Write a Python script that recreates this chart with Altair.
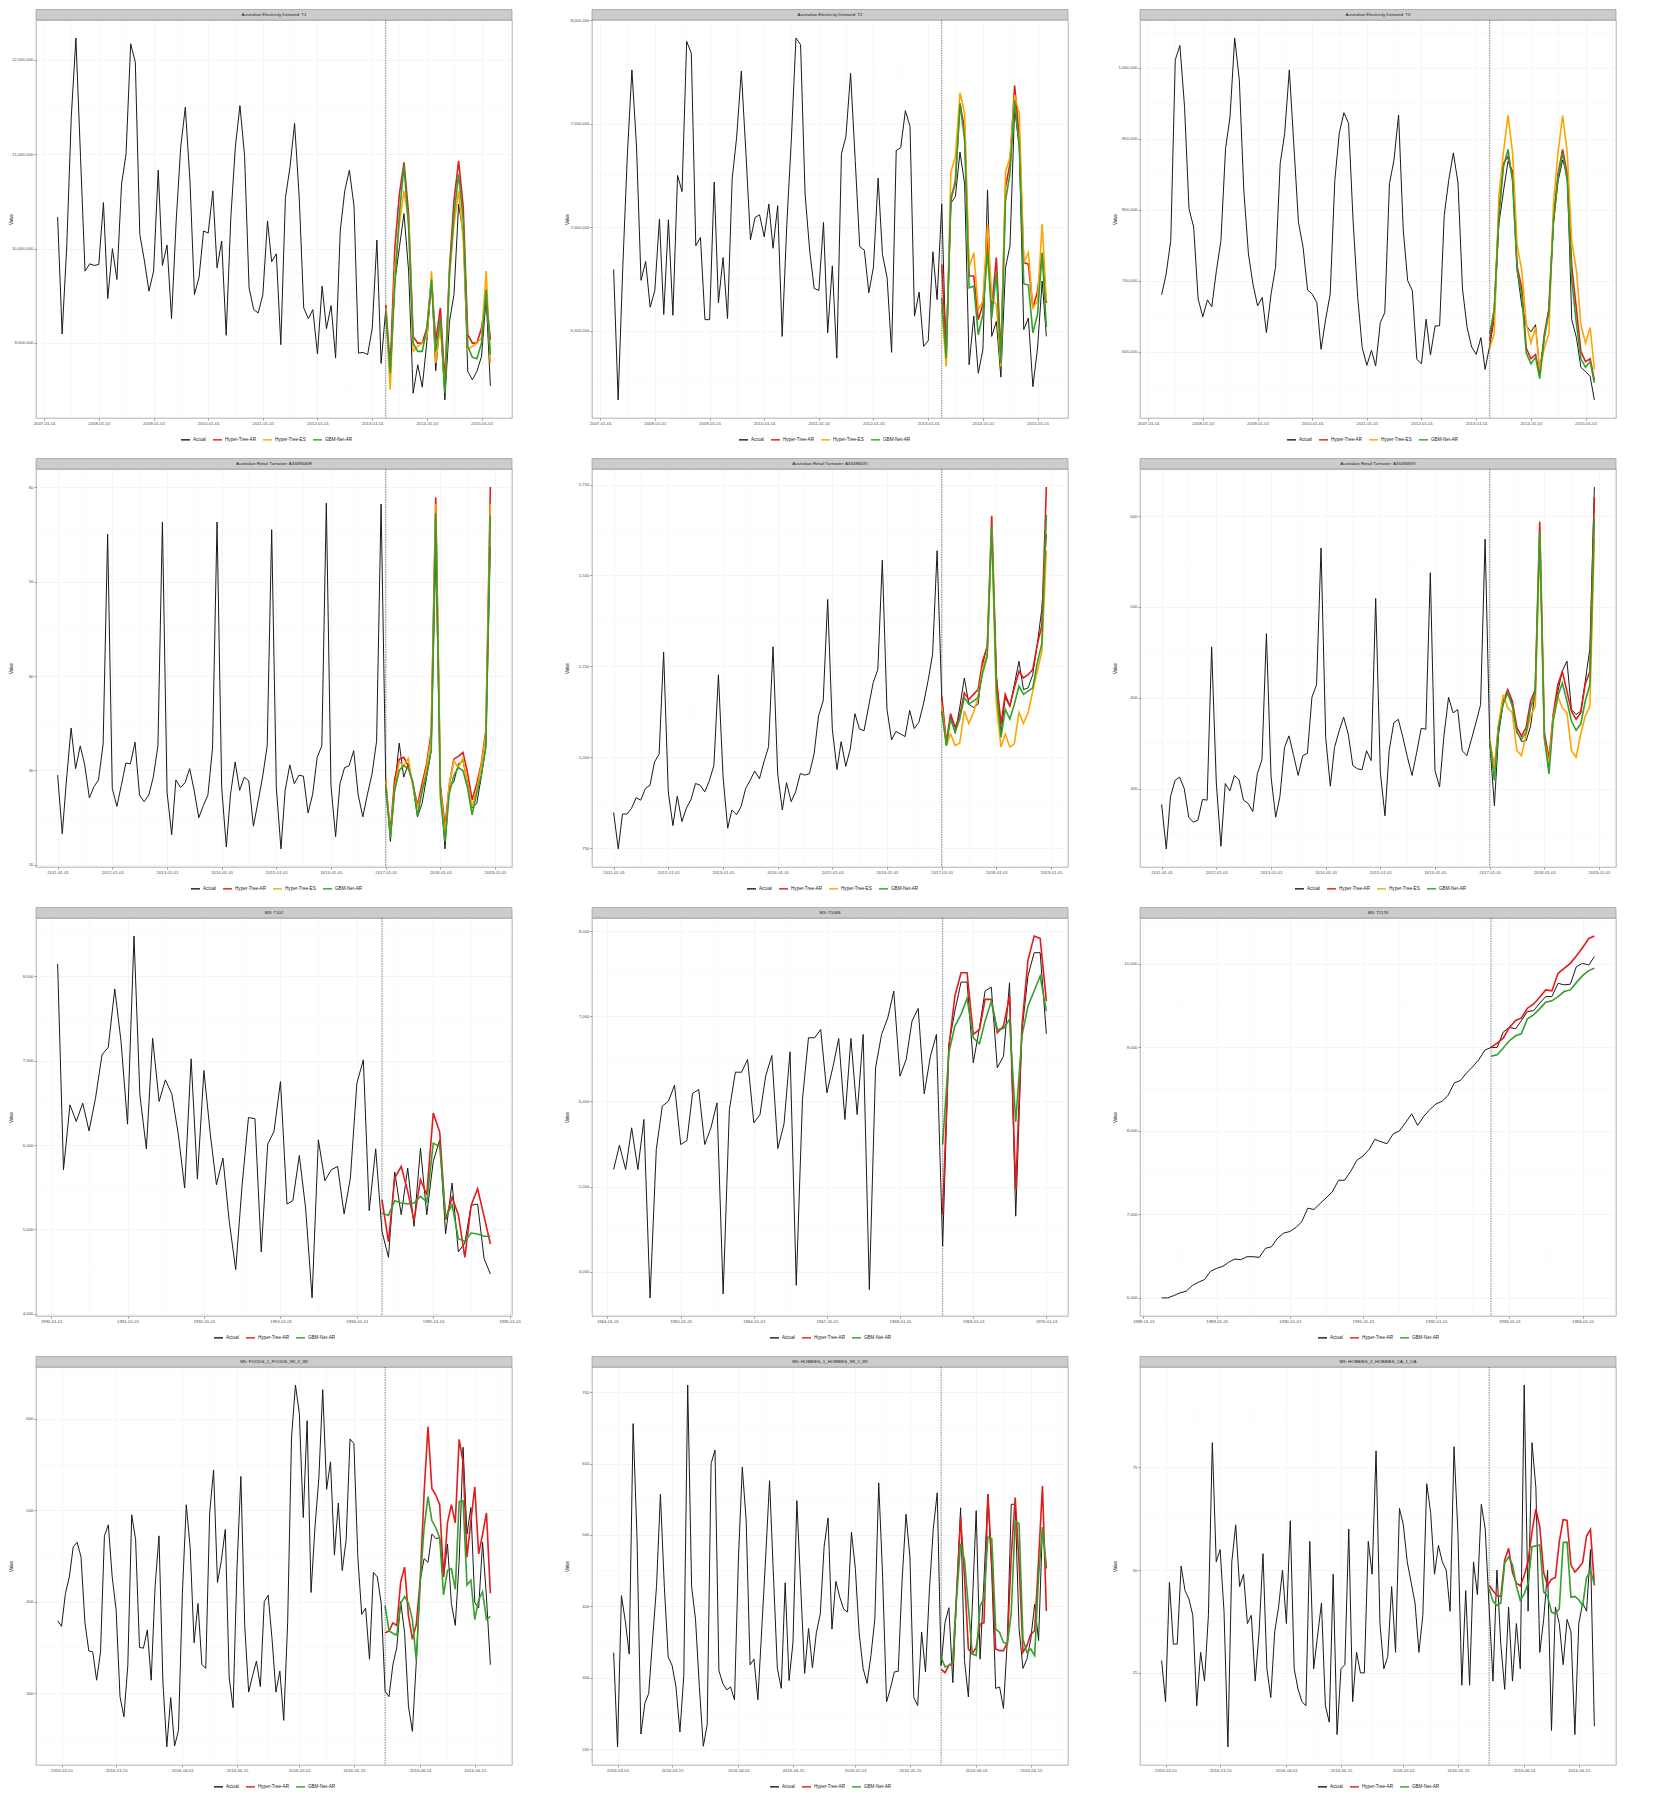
import altair as alt
import pandas as pd

FONT = "Liberation Sans"
W, H = 476, 398
COLORS = {"Actual": "#1A1A1A", "Hyper-Tree-AR": "#E41A1C",
          "Hyper-Tree-ES": "#FFA500", "GBM-Net-AR": "#33A02C"}

# ---------------- Australian Electricity Demand (monthly) ----------------
elec_xticks = ["2007-01-01", "2008-01-01", "2009-01-01", "2010-01-01", "2011-01-01",
               "2012-01-01", "2013-01-01", "2014-01-01", "2015-01-01"]

t1_title = "Australian Electricity Demand: T1"
t1_start, t1_test = "2007-04-01", "2013-04-01"
t1_actual = [10.335e6, 9.095e6, 10.027e6, 11.391e6, 12.230e6, 10.966e6, 9.761e6, 9.839e6, 9.821e6, 9.832e6, 10.487e6, 9.471e6,
             9.999e6, 9.673e6, 10.682e6, 11.001e6, 12.170e6, 11.975e6, 10.151e6, 9.868e6, 9.549e6, 9.761e6, 10.831e6, 9.821e6,
             10.038e6, 9.258e6, 10.293e6, 11.072e6, 11.497e6, 10.718e6, 9.513e6, 9.698e6, 10.186e6, 10.165e6, 10.611e6, 9.797e6,
             10.080e6, 9.081e6, 10.328e6, 11.072e6, 11.515e6, 10.983e6, 9.584e6, 9.354e6, 9.318e6, 9.513e6, 10.293e6, 9.860e6,
             9.945e6, 8.982e6, 10.541e6, 10.859e6, 11.327e6, 10.541e6, 9.372e6, 9.258e6, 9.354e6, 8.883e6, 9.602e6, 9.152e6,
             9.396e6, 8.840e6, 10.186e6, 10.611e6, 10.831e6, 10.452e6, 8.893e6, 8.900e6, 8.876e6, 9.159e6, 10.091e6, 8.784e6,
             9.354e6, 8.628e6, 9.655e6, 10.009e6, 10.371e6, 9.761e6, 8.468e6, 8.769e6, 8.532e6, 9.017e6, 9.655e6, 8.706e6,
             9.265e6, 8.397e6, 9.230e6, 9.513e6, 10.470e6, 10.151e6, 8.699e6, 8.610e6, 8.699e6, 8.858e6, 9.478e6, 8.546e6]
t1_hyper_ar = [9.407e6, 8.734e6, 10.009e6, 10.576e6, 10.913e6, 10.363e6, 9.070e6, 8.999e6, 8.999e6, 9.159e6, 9.655e6, 9.017e6,
               9.372e6, 8.592e6, 9.797e6, 10.505e6, 10.930e6, 10.434e6, 9.088e6, 8.999e6, 8.999e6, 9.159e6, 9.478e6, 9.035e6]
t1_hyper_es = [9.372e6, 8.504e6, 9.797e6, 10.257e6, 10.611e6, 10.293e6, 8.911e6, 8.964e6, 8.999e6, 9.070e6, 9.761e6, 8.787e6,
               9.195e6, 8.504e6, 9.726e6, 10.257e6, 10.611e6, 10.080e6, 8.929e6, 8.964e6, 8.999e6, 9.053e6, 9.761e6, 8.787e6]
t1_gbm = [9.336e6, 8.681e6, 9.620e6, 10.363e6, 10.877e6, 10.222e6, 8.999e6, 8.911e6, 8.911e6, 9.159e6, 9.673e6, 8.911e6,
          9.265e6, 8.468e6, 9.726e6, 10.363e6, 10.789e6, 10.293e6, 8.964e6, 8.847e6, 8.833e6, 8.999e6, 9.566e6, 8.876e6]
t1_yticks = [9e6, 10e6, 11e6, 12e6]

t2_title = "Australian Electricity Demand: T2"
t2_start, t2_test = "2007-04-01", "2013-04-01"
t2_actual = [6.796e6, 6.165e6, 6.804e6, 7.339e6, 7.760e6, 7.388e6, 6.743e6, 6.834e6, 6.613e6, 6.694e6, 7.039e6, 6.578e6,
             7.036e6, 6.574e6, 7.250e6, 7.172e6, 7.898e6, 7.841e6, 6.910e6, 6.950e6, 6.553e6, 6.553e6, 7.218e6, 6.634e6,
             6.853e6, 6.558e6, 7.234e6, 7.436e6, 7.755e6, 7.355e6, 6.939e6, 7.047e6, 7.060e6, 6.953e6, 7.112e6, 6.898e6,
             7.104e6, 6.472e6, 7.015e6, 7.420e6, 7.914e6, 7.882e6, 7.161e6, 6.885e6, 6.704e6, 6.694e6, 7.023e6, 6.489e6,
             6.813e6, 6.367e6, 7.355e6, 7.439e6, 7.744e6, 7.323e6, 6.906e6, 6.889e6, 6.683e6, 6.808e6, 7.237e6, 6.869e6,
             6.756e6, 6.395e6, 7.371e6, 7.384e6, 7.563e6, 7.488e6, 6.570e6, 6.686e6, 6.424e6, 6.451e6, 6.881e6, 6.650e6,
             7.112e6, 6.351e6, 7.115e6, 7.148e6, 7.363e6, 7.209e6, 6.335e6, 6.570e6, 6.294e6, 6.408e6, 7.180e6, 6.472e6,
             6.545e6, 6.275e6, 6.804e6, 6.910e6, 7.574e6, 7.388e6, 6.505e6, 6.561e6, 6.229e6, 6.416e6, 6.740e6, 6.472e6]
t2_hyper_ar = [6.821e6, 6.399e6, 7.128e6, 7.226e6, 7.598e6, 7.469e6, 6.764e6, 6.764e6, 6.553e6, 6.626e6, 6.950e6, 6.610e6,
               6.853e6, 6.375e6, 7.193e6, 7.307e6, 7.684e6, 7.436e6, 6.829e6, 6.821e6, 6.610e6, 6.691e6, 6.869e6, 6.634e6]
t2_hyper_es = [6.610e6, 6.327e6, 7.266e6, 7.339e6, 7.650e6, 7.550e6, 6.804e6, 6.877e6, 6.602e6, 6.642e6, 7.015e6, 6.651e6,
               6.626e6, 6.327e6, 7.266e6, 7.339e6, 7.639e6, 7.550e6, 6.829e6, 6.877e6, 6.610e6, 6.642e6, 7.015e6, 6.642e6]
t2_gbm = [6.659e6, 6.367e6, 7.145e6, 7.209e6, 7.598e6, 7.420e6, 6.707e6, 6.715e6, 6.480e6, 6.578e6, 6.885e6, 6.561e6,
          6.780e6, 6.343e6, 7.128e6, 7.258e6, 7.611e6, 7.388e6, 6.727e6, 6.720e6, 6.489e6, 6.578e6, 6.877e6, 6.516e6]
t2_yticks = [6.5e6, 7e6, 7.5e6, 8e6]

t5_title = "Australian Electricity Demand: T5"
t5_start, t5_test = "2007-04-01", "2013-04-01"
t5_actual = [680.2e3, 709.4e3, 756.6e3, 1011.3e3, 1031.6e3, 945.3e3, 801.4e3, 775.5e3, 674.1e3, 649.1e3, 673.1e3, 663.2e3,
             714.2e3, 756.6e3, 886.3e3, 931.1e3, 1042.0e3, 983.0e3, 827.4e3, 737.7e3, 695.3e3, 664.6e3, 676.4e3, 626.9e3,
             681.1e3, 718.9e3, 865.1e3, 907.6e3, 997.2e3, 888.7e3, 782.5e3, 747.2e3, 686.8e3, 681.1e3, 669.3e3, 603.3e3,
             645.8e3, 681.1e3, 841.5e3, 908.5e3, 936.8e3, 921.7e3, 784.9e3, 676.4e3, 605.7e3, 580.7e3, 601.9e3, 579.7e3,
             641.0e3, 655.2e3, 836.8e3, 869.8e3, 933.5e3, 771.7e3, 700.0e3, 685.9e3, 589.2e3, 583.0e3, 645.8e3, 595.3e3,
             636.3e3, 636.3e3, 792.0e3, 841.5e3, 880.2e3, 837.7e3, 688.2e3, 634.0e3, 606.6e3, 596.2e3, 619.8e3, 575.0e3,
             609e3, 645e3, 780e3, 825e3, 868e3, 855e3, 715e3, 665e3, 637e3, 628e3, 638e3, 572e3,
             620e3, 660e3, 780e3, 840e3, 870e3, 850e3, 645e3, 620e3, 578e3, 572e3, 565e3, 532e3]
t5_hyper_ar = [615e3, 655e3, 795e3, 865e3, 875e3, 845e3, 720e3, 690e3, 605e3, 590e3, 596e3, 567e3,
               625e3, 660e3, 790e3, 850e3, 885e3, 850e3, 720e3, 660e3, 600e3, 586e3, 590e3, 560e3]
t5_hyper_es = [605e3, 625e3, 820e3, 880e3, 933e3, 880e3, 750e3, 715e3, 640e3, 612e3, 634e3, 575e3,
               605e3, 625e3, 810e3, 880e3, 933e3, 880e3, 755e3, 715e3, 638e3, 612e3, 634e3, 575e3]
t5_gbm = [625e3, 660e3, 790e3, 860e3, 885e3, 840e3, 715e3, 680e3, 598e3, 583e3, 592e3, 562e3,
          620e3, 655e3, 785e3, 845e3, 880e3, 840e3, 700e3, 640e3, 590e3, 578e3, 586e3, 556e3]
t5_yticks = [600e3, 700e3, 800e3, 900e3, 1000e3]

# ---------------- Australian Retail Turnover (monthly) ----------------
retail_xticks = ["2011-01-01", "2012-01-01", "2013-01-01", "2014-01-01", "2015-01-01",
                 "2016-01-01", "2017-01-01", "2018-01-01", "2019-01-01"]

r1_title = "Australian Retail Turnover: A3349606R"
r1_start, r1_test = "2011-01-01", "2017-01-01"
r1_actual = [29.5, 23.3, 29.0, 34.5, 30.2, 32.6, 30.6, 27.1, 28.3, 29.0, 32.8, 55.0,
             28.1, 26.2, 28.4, 30.8, 30.7, 33.0, 27.4, 26.7, 27.4, 29.3, 32.6, 56.3,
             27.7, 23.2, 29.0, 28.2, 28.7, 30.2, 27.9, 25.0, 26.3, 27.4, 32.4, 56.3,
             28.2, 21.9, 27.5, 30.9, 27.9, 29.3, 28.9, 24.1, 26.7, 29.3, 32.6, 55.5,
             28.2, 21.7, 27.9, 30.6, 28.6, 29.5, 29.4, 25.5, 27.5, 31.4, 32.6, 58.3,
             28.4, 23.0, 28.6, 30.3, 30.5, 32.1, 27.4, 25.1, 27.5, 29.6, 33.1, 58.2,
             29.0, 22.5, 28.2, 32.9, 29.3, 30.7, 28.5, 25.1, 26.5, 29.3, 32.1, 53.0,
             28.5, 21.7, 28.2, 28.8, 30.7, 31.0, 28.7, 26.0, 26.5, 29.3, 32.6, 53.7]
r1_hyper_ar = [28.6, 23.5, 29.0, 31.2, 31.4, 30.5, 28.6, 26.3, 28.6, 30.7, 34.0, 58.9,
               28.4, 24.1, 28.4, 31.2, 31.5, 31.9, 29.8, 26.9, 28.6, 30.7, 34.2, 60.0]
r1_hyper_es = [28.9, 23.0, 28.0, 30.9, 30.5, 31.3, 28.3, 26.0, 28.0, 30.3, 33.5, 58.2,
               28.0, 23.3, 28.5, 31.0, 30.3, 31.3, 28.5, 26.2, 28.0, 30.5, 33.8, 58.2]
r1_gbm = [28.3, 22.9, 27.8, 30.0, 30.5, 30.2, 28.8, 25.2, 27.8, 29.6, 32.2, 57.2,
          27.2, 22.5, 27.5, 29.5, 30.3, 30.0, 28.2, 25.3, 27.6, 29.5, 32.5, 57.0]
r1_yticks = [20, 30, 40, 50, 60]

r2_title = "Australian Retail Turnover: A3349843V"
r2_start, r2_test = "2011-01-01", "2017-01-01"
r2_actual = [848, 748, 844, 844, 860, 889, 882, 914, 923, 987, 1009, 1289,
             905, 812, 893, 823, 860, 884, 928, 923, 905, 935, 978, 1227,
             946, 805, 855, 842, 864, 914, 937, 962, 941, 987, 1029, 1304,
             955, 855, 930, 878, 905, 955, 951, 955, 1009, 1114, 1155, 1434,
             1078, 966, 1043, 975, 1023, 1120, 1078, 1073, 1141, 1205, 1241, 1542,
             1132, 1048, 1071, 1064, 1057, 1129, 1079, 1096, 1147, 1209, 1283, 1568,
             1164, 1032, 1114, 1066, 1136, 1218, 1146, 1137, 1146, 1254, 1309, 1631,
             1227, 1065, 1164, 1140, 1200, 1264, 1186, 1191, 1227, 1309, 1409, 1613]
r2_hyper_ar = [1168, 1040, 1120, 1082, 1114, 1177, 1159, 1173, 1186, 1265, 1304, 1664,
               1218, 1091, 1173, 1141, 1191, 1236, 1218, 1227, 1241, 1309, 1363, 1743]
r2_hyper_es = [1141, 1032, 1064, 1032, 1039, 1127, 1093, 1123, 1164, 1245, 1286, 1636,
               1146, 1028, 1064, 1028, 1037, 1123, 1093, 1123, 1182, 1236, 1291, 1568]
r2_gbm = [1127, 1032, 1105, 1069, 1105, 1164, 1146, 1155, 1164, 1232, 1277, 1636,
          1186, 1055, 1132, 1105, 1146, 1196, 1173, 1182, 1191, 1259, 1314, 1667]
r2_yticks = [750, 1000, 1250, 1500, 1750]

r3_title = "Australian Retail Turnover: A3349483V"
r3_start, r3_test = "2011-01-01", "2017-01-01"
r3_actual = [282.6, 233.6, 291.0, 309.1, 312.7, 300.0, 268.5, 263.0, 265.5, 288.0, 287.3, 456.0,
             307.3, 236.5, 305.5, 297.5, 314.5, 309.8, 287.3, 283.7, 274.6, 316.3, 331.6, 470.5,
             312.7, 268.5, 291.0, 345.3, 358.0, 336.3, 314.5, 336.3, 338.8, 400.5, 414.3, 564.8,
             356.2, 302.6, 345.3, 363.5, 378.7, 359.8, 325.4, 321.8, 320.7, 341.7, 330.8, 509.3,
             318.1, 270.0, 341.7, 372.5, 376.2, 356.2, 334.5, 314.5, 339.9, 366.4, 365.3, 537.6,
             320.0, 301.8, 358.0, 400.5, 383.4, 387.0, 341.7, 336.3, 354.4, 372.5, 392.5, 574.6,
             352.6, 281.2, 359.8, 394.3, 405.2, 394.3, 363.5, 351.9, 352.6, 368.9, 407.0, 581.8,
             356.2, 321.8, 379.8, 407.0, 429.5, 440.4, 387.0, 381.6, 385.2, 417.9, 454.2, 631.9]
r3_hyper_ar = [350.8, 321.8, 368.9, 396.1, 408.8, 396.1, 367.1, 358.0, 367.1, 396.1, 408.8, 593.8,
               361.7, 332.6, 381.6, 414.3, 428.8, 407.0, 385.2, 376.2, 383.4, 415.0, 428.8, 620.3]
r3_hyper_es = [354.4, 321.8, 370.7, 403.4, 388.9, 383.4, 341.7, 336.3, 359.8, 379.8, 390.7, 579.3,
               354.4, 327.2, 378.0, 401.6, 388.9, 383.4, 341.7, 334.5, 359.8, 379.8, 390.7, 575.7]
r3_gbm = [352.6, 309.1, 367.1, 393.2, 405.2, 390.7, 361.7, 354.4, 361.7, 388.9, 405.2, 582.9,
          356.2, 316.3, 374.4, 401.6, 416.1, 396.1, 374.4, 364.2, 371.0, 396.1, 414.3, 597.4]
r3_yticks = [300, 400, 500, 600]

# ---------------- M3 (monthly) ----------------
m102_title = "M3: T102"
m102_start, m102_test = "1990-02-01", "1994-05-01"
m102_xticks = ["1990-01-01", "1991-01-01", "1992-01-01", "1993-01-01", "1994-01-01", "1995-01-01", "1996-01-01"]
m102_actual = [8146, 5708, 6477, 6280, 6497, 6169, 6556, 7069, 7160, 7850, 7227, 6248, 8477, 6596, 5956, 7266, 6517,
               6773, 6603, 6122, 5491, 7022, 5597, 6883, 6122, 5530, 5846, 5097, 4524, 5511, 6327, 6312, 4734, 6012,
               6162, 6753, 5302, 5341, 5877, 5254, 4189, 6063, 5578, 5708, 5747, 5183, 5609, 6734, 7010, 5223, 5956,
               4978, 4670, 5680, 5175, 5728, 5037, 5964, 5175, 5807, 6063, 4947, 5550, 4734, 4840, 5286, 5302, 4655, 4473]
m102_hyper_ar = [5353, 4852, 5609, 5747, 5451, 5104, 5590, 5412, 6379, 6154, 5116, 5381, 5175, 4670, 5286, 5483, 5156, 4828]
m102_gbm = [5195, 5167, 5341, 5313, 5302, 5313, 5392, 5325, 6023, 5984, 5144, 5294, 4891, 4860, 4958, 4947, 4919, 4919]
m102_yticks = [4000, 5000, 6000, 7000, 8000]

m1068_title = "M3: T1068"
m1068_start, m1068_test = "1964-02-01", "1968-08-01"
m1068_xticks = ["1964-01-01", "1965-01-01", "1966-01-01", "1967-01-01", "1968-01-01", "1969-01-01", "1970-01-01"]
m1068_actual = [5202, 5487, 5202, 5691, 5202, 5789, 3695, 5436, 5945, 6004, 6192,
                5495, 5542, 6094, 6141, 5495, 5691, 5984, 3742, 5906, 6344, 6344, 6493,
                5749, 5847, 6297, 6540, 5448, 5738, 6583, 3843, 6023, 6748, 6748, 6845,
                6102, 6415, 6740, 5789, 6740, 5847, 6787, 3793, 6395, 6787, 6982, 7296,
                6297, 6493, 6943, 7092, 6090, 6532, 6787,
                4301, 6669, 7061, 7401, 7401, 6454, 6865, 7296, 7342, 6395, 6532, 7393, 4654, 6826, 7472, 7746, 7746, 6795]
m1068_hyper_ar = [4673, 6630, 7237, 7511, 7511, 6787, 6845, 7198, 7198, 6806, 6885, 7237, 4967, 6885, 7656, 7941, 7914, 7178]
m1068_gbm = [5495, 6571, 6885, 7022, 7209, 6748, 6677, 6943, 7178, 6845, 6857, 6963, 5761, 6767, 7119, 7296, 7472, 7061]
m1068_yticks = [4000, 5000, 6000, 7000, 8000]

m1170_title = "M3: T1170"
m1170_start, m1170_test = "1988-04-01", "1992-10-01"
m1170_xticks = ["1988-01-01", "1989-01-01", "1990-01-01", "1991-01-01", "1992-01-01", "1993-01-01", "1994-01-01"]
m1170_actual = [6000, 6000, 6028, 6060, 6080, 6147, 6187, 6219, 6318, 6354, 6378, 6426, 6465, 6457, 6493, 6493, 6485,
                6593, 6612, 6716, 6775, 6795, 6843, 6911, 7074, 7058, 7129, 7197, 7269, 7408, 7408, 7515, 7646, 7698,
                7777, 7897, 7869, 7845, 7964, 7996, 8096, 8203, 8064, 8175, 8255, 8322, 8354, 8426, 8573, 8601, 8692,
                8764, 8851, 8966,
                8998, 8998, 9181, 9237, 9221, 9316, 9428, 9436, 9527, 9606, 9606, 9765, 9746, 9754, 9964, 10004, 9984, 10084]
m1170_hyper_ar = [8998, 9050, 9109, 9237, 9320, 9348, 9467, 9515, 9598, 9686, 9674, 9885, 9944, 10004, 10092, 10191, 10302, 10330]
m1170_gbm = [8891, 8911, 8990, 9078, 9137, 9161, 9340, 9388, 9459, 9539, 9555, 9606, 9666, 9686, 9773, 9857, 9917, 9945]
m1170_yticks = [6000, 7000, 8000, 9000, 10000]

# ---------------- M5 (daily) ----------------
m5_xticks = ["2016-03-01", "2016-03-15", "2016-04-01", "2016-04-15", "2016-05-01",
             "2016-05-15", "2016-06-01", "2016-06-15"]

f1_title = "M5: FOODS_1_FOODS_WI_2_WI"
f1_start, f1_test = "2016-02-29", "2016-05-23"
f1_actual = [379, 373, 409, 427, 460, 465, 449, 377, 346, 345, 314, 345, 472, 484, 427, 391, 296, 274, 330, 495,
             468, 350, 349, 369, 314, 417, 472, 312, 241, 295, 242, 259, 409, 506, 459, 355, 398, 331, 327, 497,
             544, 421, 445, 479, 317, 284, 436, 537, 373, 301, 319, 335, 307, 400, 407, 359, 301, 324, 270, 377,
             580, 637, 606, 492, 598, 410, 481, 535, 632, 523, 553, 451, 508, 434, 467, 578, 573, 449, 386, 393,
             337, 432, 427, 398,
             302, 296, 331, 350, 400, 366, 285, 258, 334, 423, 447, 443, 474, 469, 470, 427, 463, 398, 374, 445,
             569, 474, 503, 399, 393, 465, 405, 331]
f1_hyper_ar = [366.0, 367.8, 376.8, 373.9, 421.6, 437.8, 384.0, 358.9, 375.0, 423.4, 518.5, 591.4, 523.9, 516.7,
               506.0, 427.0, 486.2, 506.0, 486.2, 577.7, 552.6, 448.6, 488.0, 525.7, 452.2, 473.7, 497.0, 409.1]
f1_gbm = [395.5, 367.8, 365.3, 363.2, 398.3, 405.5, 398.3, 380.4, 335.5, 419.9, 480.9, 514.9, 488.7, 480.9,
          470.1, 407.3, 434.2, 436.0, 413.4, 509.6, 510.3, 418.1, 423.4, 380.4, 401.9, 410.9, 380.4, 384.0]
f1_yticks = [300, 400, 500, 600]

h1_title = "M5: HOBBIES_1_HOBBIES_WI_1_WI"
h1_start, h1_test = "2016-02-29", "2016-05-23"
h1_actual = [335, 203, 415, 379, 333, 656, 495, 221, 264, 278, 354, 428, 557, 428, 329, 317, 287, 224, 303, 710,
             428, 382, 286, 204, 234, 600, 619, 310, 292, 283, 287, 269, 465, 595, 520, 318, 326, 269, 369, 469,
             576, 442, 313, 285, 433, 296, 349, 548, 426, 306, 369, 314, 363, 389, 484, 524, 368, 435, 413, 396,
             392, 504, 453, 361, 313, 292, 331, 382, 573, 442, 266, 285, 308, 309, 437, 529, 469, 272, 261, 364,
             308, 423, 509, 559,
             317, 377, 398, 293, 419, 538, 324, 273, 400, 534, 326, 437, 557, 446, 285, 287, 257, 354, 543, 543,
             369, 313, 326, 354, 403, 352, 511, 453]
h1_hyper_ar = [311.6, 307.0, 317.2, 319.5, 420.9, 524.7, 441.7, 340.2, 333.3, 342.5, 374.8, 377.1, 557.0, 462.5,
               340.2, 337.9, 337.9, 349.4, 470.3, 552.4, 460.2, 335.6, 344.8, 361.0, 365.6, 464.8, 568.6, 393.3]
h1_gbm = [328.7, 314.9, 317.2, 321.8, 414.0, 487.8, 464.8, 397.9, 333.3, 331.0, 400.2, 411.7, 497.1, 494.8,
          367.9, 363.3, 349.4, 347.1, 391.0, 520.1, 515.5, 354.1, 335.6, 340.2, 331.0, 441.7, 510.9, 455.5]
h1_yticks = [200, 300, 400, 500, 600, 700]

h2_title = "M5: HOBBIES_2_HOBBIES_CA_1_CA"
h2_start, h2_test = "2016-02-29", "2016-05-23"
h2_actual = [28, 18, 47, 32, 32, 51, 45, 43, 39, 17, 30, 23, 39, 81, 52, 55, 40, 7, 52, 61,
             46, 49, 37, 39, 23, 35, 54, 26, 19, 35, 41, 50, 37, 62, 26, 21, 18, 17, 57, 26,
             34, 42, 17, 13, 49, 10, 26, 27, 60, 18, 30, 25, 25, 57, 49, 79, 37, 26, 29, 46,
             30, 65, 61, 52, 47, 42, 30, 39, 71, 64, 49, 56, 52, 50, 40, 80, 59, 22, 45, 22,
             52, 44, 66, 60,
             41, 23, 50, 32, 21, 41, 23, 37, 26, 95, 40, 81, 70, 30, 38, 50, 11, 41, 37, 27,
             38, 35, 10, 37, 42, 40, 55, 12]
h2_hyper_ar = [46.3, 45.0, 43.8, 43.6, 52.5, 55.3, 49.4, 46.8, 46.2, 48.6, 52.1, 59.3, 64.9, 60.5,
               49.4, 46.2, 47.8, 48.2, 56.9, 62.3, 62.1, 51.3, 49.5, 50.6, 51.8, 58.3, 59.9, 46.3]
h2_gbm = [45.5, 42.4, 41.4, 42.0, 51.7, 53.2, 51.3, 46.2, 42.6, 44.2, 46.8, 55.7, 55.9, 56.1,
          44.7, 43.6, 39.8, 39.4, 40.6, 56.7, 56.8, 43.4, 43.6, 42.8, 41.4, 48.2, 49.8, 46.6]
h2_yticks = [25, 50, 75]

# ---------------- helpers (layout / styling only) ----------------
LEG_FS = 4.6
SYM = 9
COLPAD = 4
LABOFF = 2
CHAR_W = {"A": .667, "c": .5, "t": .278, "u": .556, "a": .556, "l": .222, "H": .722, "y": .5,
          "p": .556, "e": .556, "r": .333, "-": .333, "T": .611, "R": .722, "E": .667, "S": .667,
          "G": .778, "B": .667, "M": .833, "N": .722}


def text_w(s, fs):
    return sum(CHAR_W.get(ch, 0.55) for ch in s) * fs


def to_ms(d):
    return int(pd.Timestamp(d).value // 10**6)


def minor_between(ticks, lo, hi):
    t = sorted(ticks)
    mids = [(a + b) / 2 for a, b in zip(t[:-1], t[1:])]
    if len(t) > 1:
        mids = [t[0] - (t[1] - t[0]) / 2] + mids + [t[-1] + (t[-1] - t[-2]) / 2]
    return [m for m in mids if lo < m < hi]


def panel(title, freq, start, actual, test_start, forecasts, xticks, yticks, leg_shift=0):
    act_dates = pd.date_range(start, periods=len(actual), freq=freq)
    act_df = pd.DataFrame({"date": act_dates.strftime("%Y-%m-%d"), "value": actual, "series": "Actual"})
    fc_dfs = []
    for name, vals in forecasts:
        d = pd.date_range(test_start, periods=len(vals), freq=freq)
        fc_dfs.append(pd.DataFrame({"date": d.strftime("%Y-%m-%d"), "value": vals, "series": name}))

    allv = list(actual) + [v for _, vals in forecasts for v in vals]
    lo, hi = min(allv), max(allv)
    pad = 0.05 * (hi - lo)
    ylo, yhi = lo - pad, hi + pad
    x0 = to_ms(act_dates[0])
    x1 = max(to_ms(act_dates[-1]), max(to_ms(df["date"].iloc[-1]) for df in fc_dfs))
    xpad = 0.05 * (x1 - x0)
    xlo, xhi = x0 - xpad, x1 + xpad
    xtick_ms = [to_ms(t) for t in xticks]

    names = ["Actual"] + [n for n, _ in forecasts]
    leg_w = sum(SYM + LABOFF + text_w(n, LEG_FS) for n in names) + COLPAD * (len(names) - 1)
    leg_x = W / 2 - 5 + leg_shift - leg_w / 2

    cscale = alt.Scale(domain=names, range=[COLORS[n] for n in names])
    color = alt.Color("series:N", scale=cscale, sort=names,
                      legend=alt.Legend(title=None, orient="none", legendX=leg_x, legendY=H + 16,
                                        direction="horizontal",
                                        symbolType="stroke", symbolStrokeWidth=1.4, symbolSize=SYM * SYM,
                                        labelFontSize=LEG_FS, labelFont=FONT, labelColor="#1A1A1A",
                                        labelOffset=LABOFF, columnPadding=COLPAD, padding=0, labelLimit=200))
    x = alt.X("date:T",
              scale=alt.Scale(type="utc", domain=[xlo, xhi], nice=False),
              axis=alt.Axis(values=xtick_ms, labelExpr="utcFormat(datum.value, '%Y-%m-%d')",
                            title=None, labelAngle=0, labelOverlap=False, labelFlush=False,
                            labelPadding=1))
    y = alt.Y("value:Q",
              scale=alt.Scale(domain=[ylo, yhi], nice=False, zero=False),
              axis=alt.Axis(values=yticks, labelExpr="format(datum.value, ',')", title="Value",
                            minExtent=21, maxExtent=21, titlePadding=1.5, labelPadding=1))

    xminor = pd.DataFrame({"date": minor_between(xtick_ms, xlo, xhi)})
    yminor = pd.DataFrame({"value": minor_between(yticks, ylo, yhi)})
    grid_x = alt.Chart(xminor).mark_rule(color="#F1F1F1", strokeWidth=0.35).encode(x=x)
    grid_y = alt.Chart(yminor).mark_rule(color="#F1F1F1", strokeWidth=0.35).encode(y=y)

    strip_df = pd.DataFrame({"t": [title]})
    strip = alt.Chart(strip_df).mark_rect(fill="#CCCCCC", stroke="#9A9A9A", strokeWidth=0.7).encode(
        x=alt.value(0), x2=alt.value(W), y=alt.value(-10.5), y2=alt.value(0))
    strip_txt = alt.Chart(strip_df).mark_text(font=FONT, fontSize=4.4, color="#1A1A1A",
                                              baseline="middle", align="center").encode(
        x=alt.value(W / 2), y=alt.value(-5.2), text="t:N")

    layers = [grid_x, grid_y, strip, strip_txt,
              alt.Chart(act_df).mark_line(strokeWidth=1.0).encode(x=x, y=y, color=color)]
    for df in fc_dfs:
        layers.append(alt.Chart(df).mark_line(strokeWidth=1.6).encode(x=x, y=y, color=color))
    vline = alt.Chart(pd.DataFrame({"date": [test_start]})).mark_rule(
        color="#333333", strokeWidth=0.6, strokeDash=[1.5, 1]).encode(x=x)
    layers.append(vline)
    return alt.layer(*layers).properties(width=W, height=H)


panels = [
    panel(t1_title, "MS", t1_start, t1_actual, t1_test,
          [("Hyper-Tree-AR", t1_hyper_ar), ("Hyper-Tree-ES", t1_hyper_es), ("GBM-Net-AR", t1_gbm)],
          elec_xticks, t1_yticks, leg_shift=-10),
    panel(t2_title, "MS", t2_start, t2_actual, t2_test,
          [("Hyper-Tree-AR", t2_hyper_ar), ("Hyper-Tree-ES", t2_hyper_es), ("GBM-Net-AR", t2_gbm)],
          elec_xticks, t2_yticks, leg_shift=-8),
    panel(t5_title, "MS", t5_start, t5_actual, t5_test,
          [("Hyper-Tree-AR", t5_hyper_ar), ("Hyper-Tree-ES", t5_hyper_es), ("GBM-Net-AR", t5_gbm)],
          elec_xticks, t5_yticks, leg_shift=-8),
    panel(r1_title, "MS", r1_start, r1_actual, r1_test,
          [("Hyper-Tree-AR", r1_hyper_ar), ("Hyper-Tree-ES", r1_hyper_es), ("GBM-Net-AR", r1_gbm)],
          retail_xticks, r1_yticks),
    panel(r2_title, "MS", r2_start, r2_actual, r2_test,
          [("Hyper-Tree-AR", r2_hyper_ar), ("Hyper-Tree-ES", r2_hyper_es), ("GBM-Net-AR", r2_gbm)],
          retail_xticks, r2_yticks),
    panel(r3_title, "MS", r3_start, r3_actual, r3_test,
          [("Hyper-Tree-AR", r3_hyper_ar), ("Hyper-Tree-ES", r3_hyper_es), ("GBM-Net-AR", r3_gbm)],
          retail_xticks, r3_yticks),
    panel(m102_title, "MS", m102_start, m102_actual, m102_test,
          [("Hyper-Tree-AR", m102_hyper_ar), ("GBM-Net-AR", m102_gbm)], m102_xticks, m102_yticks),
    panel(m1068_title, "MS", m1068_start, m1068_actual, m1068_test,
          [("Hyper-Tree-AR", m1068_hyper_ar), ("GBM-Net-AR", m1068_gbm)], m1068_xticks, m1068_yticks),
    panel(m1170_title, "MS", m1170_start, m1170_actual, m1170_test,
          [("Hyper-Tree-AR", m1170_hyper_ar), ("GBM-Net-AR", m1170_gbm)], m1170_xticks, m1170_yticks),
    panel(f1_title, "D", f1_start, f1_actual, f1_test,
          [("Hyper-Tree-AR", f1_hyper_ar), ("GBM-Net-AR", f1_gbm)], m5_xticks, f1_yticks),
    panel(h1_title, "D", h1_start, h1_actual, h1_test,
          [("Hyper-Tree-AR", h1_hyper_ar), ("GBM-Net-AR", h1_gbm)], m5_xticks, h1_yticks),
    panel(h2_title, "D", h2_start, h2_actual, h2_test,
          [("Hyper-Tree-AR", h2_hyper_ar), ("GBM-Net-AR", h2_gbm)], m5_xticks, h2_yticks),
]

chart = alt.concat(*panels, columns=3, spacing={"row": 13, "column": 43}).resolve_scale(
    x="independent", y="independent", color="independent").resolve_legend(color="independent")

chart = chart.properties(padding={"left": 0, "top": 0, "right": 4, "bottom": 4}).configure(
    font=FONT).configure_view(stroke="#8F8F8F", strokeWidth=0.7, fill="white").configure_axis(
    labelFont=FONT, labelFontSize=4.3, labelColor="#4D4D4D", tickColor="#333333", tickSize=2,
    tickWidth=0.5, domain=False, grid=True, gridColor="#EBEBEB", gridWidth=0.5,
    titleFont=FONT, titleFontSize=4.5, titleFontWeight="normal", titleColor="#1A1A1A")

chart.save("out.html", embed_options={"renderer": "svg", "actions": False})
